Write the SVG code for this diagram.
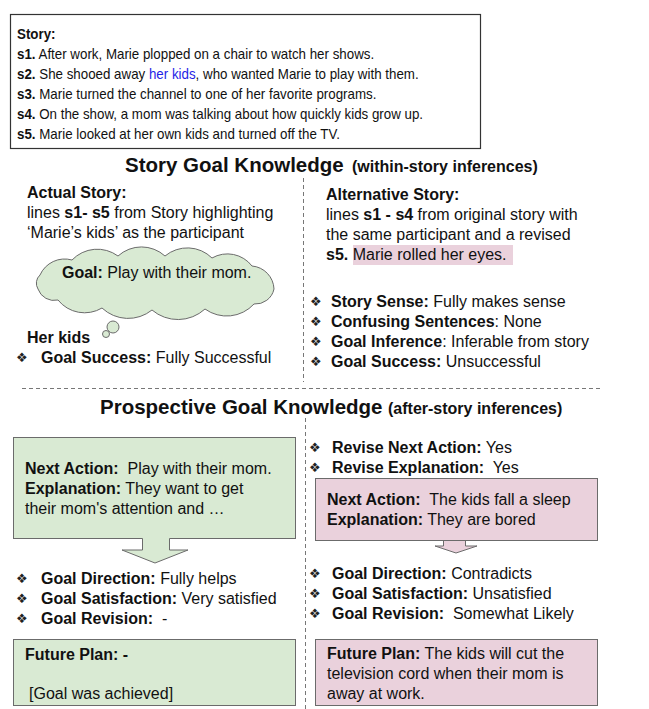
<svg xmlns="http://www.w3.org/2000/svg" width="649" height="709" viewBox="0 0 649 709">
<style>
text{font-family:"Liberation Sans",Arial,sans-serif;fill:#111;white-space:pre}
.s{font-size:14.5px}
.t{font-size:16px}
.b{font-weight:bold}
.h1{font-size:20.5px;font-weight:bold}
.h2{font-size:16px;font-weight:bold}
.bul{font-family:"DejaVu Sans",sans-serif;font-size:13px;fill:#222}
.green{fill:#d9ead3;stroke:#6b6b6b;stroke-width:1}
.pink{fill:#ead1dc;stroke:#6b6b6b;stroke-width:1}
.dash{stroke:#777;stroke-width:1;stroke-dasharray:4 3;fill:none}
</style>

<g id="story">
<rect x="10.5" y="14.5" width="470" height="134" fill="#fff" stroke="#333" stroke-width="1.2"/>
<g transform="translate(17,0) scale(0.92,1) translate(-17,0)">
<text class="s b" x="17" y="39">Story:</text>
<text class="s" x="17" y="59"><tspan class="b">s1.</tspan> After work, Marie plopped on a chair to watch her shows.</text>
<text class="s" x="17" y="79"><tspan class="b">s2.</tspan> She shooed away <tspan style="fill:#1f1fe6">her kids</tspan>, who wanted Marie to play with them.</text>
<text class="s" x="17" y="99"><tspan class="b">s3.</tspan> Marie turned the channel to one of her favorite programs.</text>
<text class="s" x="17" y="119"><tspan class="b">s4.</tspan> On the show, a mom was talking about how quickly kids grow up.</text>
<text class="s" x="17" y="139"><tspan class="b">s5.</tspan> Marie looked at her own kids and turned off the TV.</text>
</g>
</g>

<g id="dividers">
<line class="dash" x1="303.5" y1="178" x2="303.5" y2="382"/>
<line class="dash" x1="22" y1="388.5" x2="602" y2="388.5"/>
<line class="dash" x1="305.5" y1="418" x2="305.5" y2="709"/>
</g>

<g id="title-story-goal">
<text class="h1" x="125" y="172">Story Goal Knowledge</text>
<text class="h2" x="352" y="172">(within-story inferences)</text>
</g>

<g id="actual-story">
<text class="t b" x="27" y="198">Actual Story:</text>
<text class="t" x="27" y="218">lines <tspan class="b">s1- s5</tspan> from Story highlighting</text>
<text class="t" x="27" y="238">‘Marie’s kids’ as the participant</text>
</g>

<g id="goal-cloud">
<path class="green" d="M40,275 A27,27 0 0 1 72,260 A35,35 0 0 1 118,256 A35,35 0 0 1 165,256 A35,35 0 0 1 212,258 A31,31 0 0 1 252,266 A24,24 0 0 1 274,289 A19,19 0 0 1 254,304 A37,37 0 0 1 205,309 A40,40 0 0 1 152,310 A38,38 0 0 1 102,308 A34,34 0 0 1 58,300 A17,17 0 0 1 38,289 A11,11 0 0 1 40,275 Z"/>
<circle class="green" cx="113" cy="327" r="6"/>
<circle class="green" cx="106" cy="334" r="3.5"/>
<text class="t" x="62" y="278"><tspan class="b">Goal:</tspan> Play with their mom.</text>
</g>

<g id="her-kids">
<text class="t b" x="27" y="343">Her kids</text>
<text class="bul" x="16" y="362">❖</text>
<text class="t" x="41" y="363"><tspan class="b">Goal Success:</tspan> Fully Successful</text>
</g>

<g id="alternative-story">
<rect x="353" y="245" width="160" height="20" fill="#ead1dc"/>
<text class="t b" x="326" y="200">Alternative Story:</text>
<text class="t" x="326" y="220">lines <tspan class="b">s1 - s4</tspan> from original story with</text>
<text class="t" x="326" y="240">the same participant and a revised</text>
<text class="t" x="326" y="260"><tspan class="b">s5.</tspan> Marie rolled her eyes.</text>
</g>

<g id="alt-ratings">
<text class="bul" x="310" y="306">❖</text>
<text class="t" x="331" y="307"><tspan class="b">Story Sense:</tspan> Fully makes sense</text>
<text class="bul" x="310" y="326">❖</text>
<text class="t" x="331" y="327"><tspan class="b">Confusing Sentences</tspan>: None</text>
<text class="bul" x="310" y="346">❖</text>
<text class="t" x="331" y="347"><tspan class="b">Goal Inference</tspan>: Inferable from story</text>
<text class="bul" x="310" y="366">❖</text>
<text class="t" x="331" y="367"><tspan class="b">Goal Success:</tspan> Unsuccessful</text>
</g>

<g id="title-prospective">
<text class="h1" x="100" y="414">Prospective Goal Knowledge</text>
<text class="h2" x="388" y="414">(after-story inferences)</text>
</g>

<g id="next-action-actual">
<rect class="green" x="13.5" y="437.5" width="282" height="101"/>
<text class="t" x="25" y="474"><tspan class="b">Next Action:</tspan>  Play with their mom.</text>
<text class="t" x="25" y="494"><tspan class="b">Explanation:</tspan> They want to get</text>
<text class="t" x="25" y="514">their mom's attention and …</text>
</g>

<g id="connectors">
<polygon points="142.5,537 142.5,550 122,550 155,563 188,550 169.5,550 169.5,537" fill="#d9ead3"/>
<path d="M142.5,538.5 V550 H122 L155,563 L188,550 H169.5 V538.5" fill="none" stroke="#6b6b6b" stroke-width="1"/>
<polygon points="443.5,539.5 443.5,546 435,546 456,553 477,546 465.5,546 465.5,539.5" fill="#ead1dc"/>
<path d="M443.5,540.5 V546 H435 L456,553 L477,546 H465.5 V540.5" fill="none" stroke="#6b6b6b" stroke-width="1"/>
</g>

<g id="actual-ratings">
<text class="bul" x="16" y="583">❖</text>
<text class="t" x="41" y="584"><tspan class="b">Goal Direction:</tspan> Fully helps</text>
<text class="bul" x="16" y="603">❖</text>
<text class="t" x="41" y="604"><tspan class="b">Goal Satisfaction:</tspan> Very satisfied</text>
<text class="bul" x="16" y="623">❖</text>
<text class="t" x="41" y="624"><tspan class="b">Goal Revision:</tspan>  -</text>
</g>

<g id="future-plan-actual">
<rect class="green" x="13.5" y="639.5" width="282" height="66"/>
<text class="t b" x="25" y="660">Future Plan: -</text>
<text class="t" x="29" y="699">[Goal was achieved]</text>
</g>

<g id="revise-flags">
<text class="bul" x="309" y="452">❖</text>
<text class="t" x="332" y="453"><tspan class="b">Revise Next Action:</tspan> Yes</text>
<text class="bul" x="309" y="472">❖</text>
<text class="t" x="332" y="473"><tspan class="b">Revise Explanation:</tspan>  Yes</text>
</g>

<g id="next-action-alt">
<rect class="pink" x="315.5" y="478.5" width="282" height="62"/>
<text class="t" x="327" y="505"><tspan class="b">Next Action:</tspan>  The kids fall a sleep</text>
<text class="t" x="327" y="525"><tspan class="b">Explanation:</tspan> They are bored</text>
</g>

<g id="alt-prospective-ratings">
<text class="bul" x="309" y="578">❖</text>
<text class="t" x="332" y="579"><tspan class="b">Goal Direction:</tspan> Contradicts</text>
<text class="bul" x="309" y="598">❖</text>
<text class="t" x="332" y="599"><tspan class="b">Goal Satisfaction:</tspan> Unsatisfied</text>
<text class="bul" x="309" y="618">❖</text>
<text class="t" x="332" y="619"><tspan class="b">Goal Revision:</tspan>  Somewhat Likely</text>
</g>

<g id="future-plan-alt">
<rect class="pink" x="315.5" y="639.5" width="282" height="66"/>
<text class="t" x="327" y="659"><tspan class="b">Future Plan:</tspan> The kids will cut the</text>
<text class="t" x="327" y="679">television cord when their mom is</text>
<text class="t" x="327" y="699">away at work.</text>
</g>
</svg>
